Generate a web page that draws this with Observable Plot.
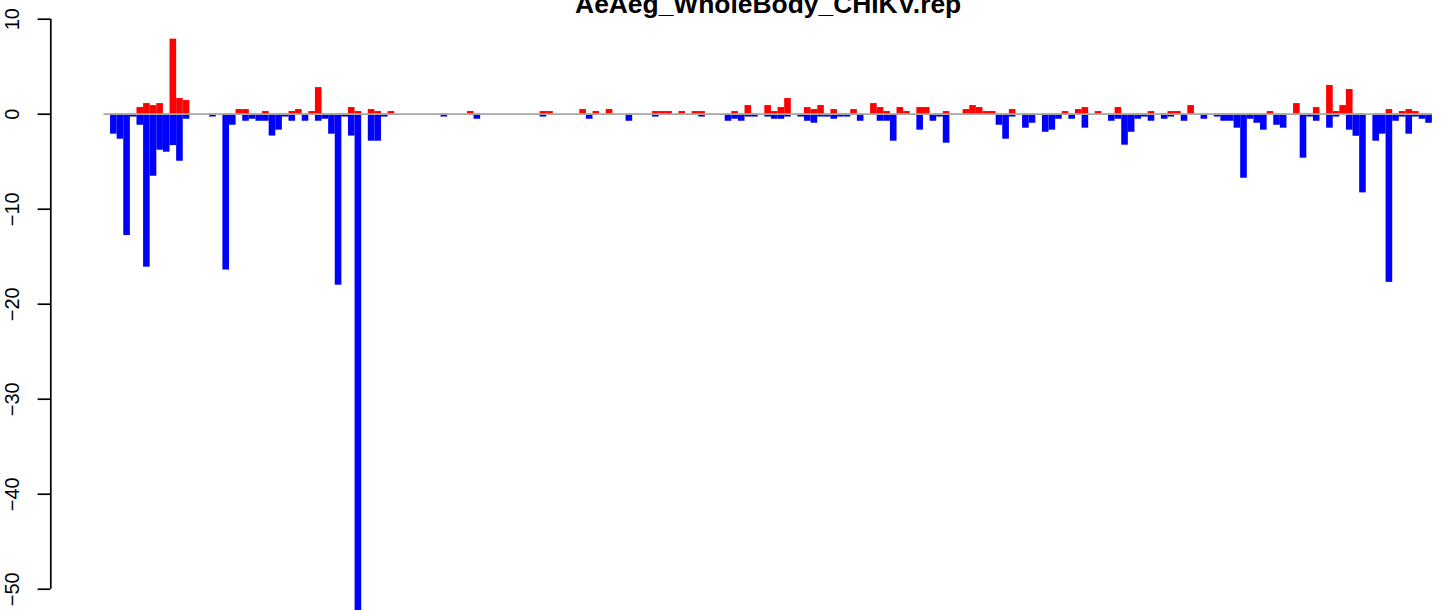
<!DOCTYPE html>
<html>
<head>
<meta charset="utf-8">
<script src="https://cdn.jsdelivr.net/npm/d3@7"></script>
<script src="https://cdn.jsdelivr.net/npm/@observablehq/plot@0.6"></script>
<style>
  html, body { margin: 0; padding: 0; background: #fff; }
  #chart svg { display: block; }
</style>
</head>
<body>
<div id="chart"></div>
<script>
const title = "AeAeg_WholeBody_CHIKV.rep";
const positions = d3.range(201);
const up = [
  0, 0, 0, 0, 0, 0.7, 1.12, 0.91, 1.12, 0, 7.9, 1.65, 1.44, 0, 0, 0, 0, 0, 0, 0,
  0.49, 0.49, 0, 0, 0.28, 0, 0, 0, 0.28, 0.49, 0, 0.28, 2.8, 0, 0, 0, 0, 0.7, 0.28, 0,
  0.49, 0.28, 0, 0.28, 0, 0, 0, 0, 0, 0, 0, 0, 0, 0, 0, 0.28, 0, 0, 0, 0,
  0, 0, 0, 0, 0, 0, 0.28, 0.28, 0, 0, 0, 0, 0.49, 0, 0.28, 0, 0.49, 0, 0, 0,
  0, 0, 0, 0.28, 0.28, 0.28, 0, 0.28, 0, 0.28, 0.28, 0, 0, 0, 0, 0.28, 0, 0.91, 0, 0,
  0.91, 0.28, 0.7, 1.65, 0, 0, 0.7, 0.49, 0.91, 0, 0.49, 0, 0, 0.49, 0, 0, 1.12, 0.7, 0.28, 0,
  0.7, 0.28, 0, 0.7, 0.7, 0, 0, 0.28, 0, 0, 0.49, 0.91, 0.7, 0.28, 0.28, 0, 0, 0.49, 0, 0,
  0, 0, 0, 0, 0, 0.28, 0, 0.49, 0.7, 0, 0.28, 0, 0, 0.7, 0, 0, 0, 0, 0.28, 0,
  0, 0.28, 0.28, 0, 0.91, 0, 0, 0, 0, 0, 0, 0, 0, 0, 0, 0, 0.28, 0, 0, 0,
  1.12, 0, 0, 0.7, 0, 3.02, 0.28, 0.91, 2.6, 0, 0, 0, 0, 0, 0.49, 0, 0.28, 0.49, 0.28, 0,
  0
];
const down = [
  0, -2.1, -2.63, -12.77, -0.3, -1.16, -16.1, -6.53, -3.79, -4.0, -3.3, -4.95, -0.53, 0, 0, 0, -0.3, 0, -16.4, -1.16,
  0, -0.74, -0.53, -0.74, -0.74, -2.3, -1.68, -0.3, -0.74, 0, -0.74, 0, -0.74, -0.53, -2.1, -18.0, -0.3, -2.3, -52.3, 0,
  -2.84, -2.84, -0.3, 0, 0, 0, 0, 0, 0, 0, 0, -0.3, 0, 0, 0, 0, -0.53, 0, 0, 0,
  0, 0, 0, 0, 0, 0, -0.3, 0, 0, 0, 0, 0, 0, -0.53, 0, 0, 0, 0, 0, -0.74,
  0, 0, 0, -0.3, 0, 0, 0, 0, 0, 0, -0.3, 0, 0, 0, -0.74, -0.53, -0.74, -0.3, -0.3, 0,
  -0.3, -0.53, -0.53, -0.3, 0, -0.3, -0.74, -0.95, -0.3, -0.3, -0.53, -0.3, -0.3, 0, -0.74, 0, 0, -0.74, -0.74, -2.84,
  0, 0, 0, -1.68, 0, -0.74, -0.3, -3.05, 0, 0, 0, 0, 0, 0, 0, -1.16, -2.63, -0.3, 0, -1.47,
  -0.95, 0, -1.9, -1.68, -0.53, 0, -0.53, 0, -1.47, 0, 0, 0, -0.74, -0.53, -3.26, -1.9, -0.53, -0.3, -0.74, 0,
  -0.53, -0.3, 0, -0.74, 0, 0, -0.53, 0, -0.3, -0.74, -0.74, -1.47, -6.74, -0.53, -0.95, -1.68, 0, -1.16, -1.47, 0,
  0, -4.63, -0.3, -0.74, 0, -1.47, -0.3, 0, -1.68, -2.32, -8.28, 0, -2.84, -2.1, -17.7, -0.74, -0.3, -2.1, -0.3, -0.53,
  -0.95
];
const yTicks = [-50, -40, -30, -20, -10, 0, 10];
const xlim = [-8.04, 209.04];
const ylim = [-52.24, 11.97];

const rows = positions.map(i => ({i, up: up[i], down: down[i]}));
const fmt = d => (d < 0 ? "\u2212" + Math.abs(d) : String(d));

const chart = Plot.plot({
  width: 1452,
  height: 610,
  marginLeft: 50.3,
  marginRight: 0,
  marginTop: 0,
  marginBottom: 0,
  style: {fontFamily: "'Liberation Sans', Arial, Helvetica, sans-serif", background: "#fff"},
  x: {type: "linear", domain: xlim, range: [50.3, 1485], axis: null},
  y: {type: "linear", domain: ylim, range: [610, 0], axis: null},
  marks: [
    Plot.rect(rows.filter(d => d.up > 0), {x1: "i", x2: d => d.i + 1, y1: 0, y2: "up", fill: "#ff0000"}),
    Plot.rect(rows.filter(d => d.down < 0), {x1: "i", x2: d => d.i + 1, y1: 0, y2: "down", fill: "#0000ff"}),
    Plot.ruleY([0], {x1: 0, x2: positions.length, stroke: "#a6a6a6", strokeWidth: 1.7}),
    Plot.ruleX([xlim[0]], {y1: yTicks[0], y2: yTicks[yTicks.length - 1], stroke: "#000", strokeWidth: 1.7}),
    Plot.axisY(yTicks, {anchor: "left", tickSize: 12.7, tickFormat: () => "", stroke: "#000", strokeWidth: 1.7}),
    Plot.text(yTicks, {y: d => d, text: fmt, frameAnchor: "left", dx: -32, rotate: -90, textAnchor: "middle", lineAnchor: "bottom", fontSize: 20, fill: "#000"}),
    Plot.text([title], {x: (xlim[0] + xlim[1]) / 2, frameAnchor: "top", dy: 12.3, lineAnchor: "bottom", textAnchor: "middle", fontSize: 26.4, fontWeight: "bold", fill: "#000"})
  ]
});
document.getElementById("chart").appendChild(chart);
</script>
</body>
</html>
